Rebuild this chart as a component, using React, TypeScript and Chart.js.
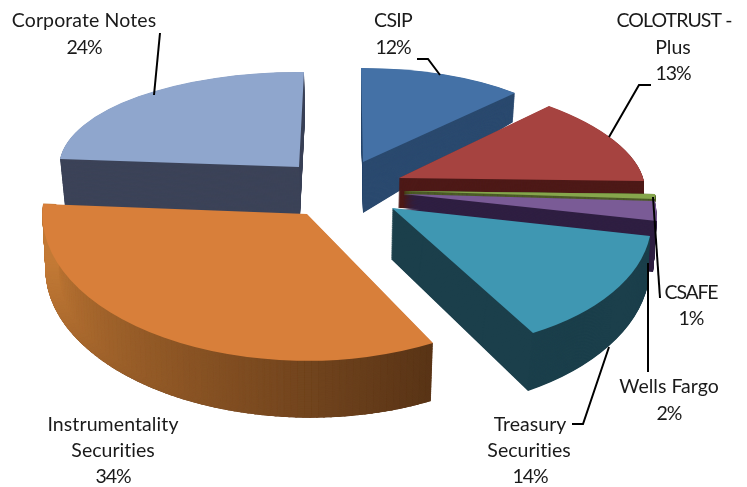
import React, { useEffect, useRef } from "react";
import { Chart, registerables, ArcElement } from "chart.js";

Chart.register(...registerables);

const categories = ["CSIP", "COLOTRUST - Plus", "CSAFE", "Wells Fargo", "Treasury Securities", "Instrumentality Securities", "Corporate Notes"];
const shares = [12, 13, 1, 2, 14, 34, 24];
const topColors = ["#4471a6", "#a64340", "#86a64c", "#7a5b96", "#3f97b2", "#d87f3a", "#8fa6cd"];
const wallColors = ["#2b4a6f", "#4e1a18", "#4e5c2a", "#2f1f42", "#1b3f4b", "#5a3517", "#3c4358"];
const drawOrder = [6, 0, 1, 2, 3, 4, 5];

type V = [number, number];
// View of each exploded slice: where the slice's centre and its two radial edges land (top and bottom faces).
const views: { c: V; a: V; b: V; c2: V; a2: V; b2: V }[] = [
  { c: [363, 162], a: [361, 68], b: [515, 93], c2: [363, 213], a2: [361, 118], b2: [513, 122] },
  { c: [399, 178], a: [549, 106], b: [644, 181], c2: [398, 208], a2: [549, 150], b2: [644, 215] },
  { c: [403, 191], a: [655, 194], b: [655, 199], c2: [403, 195], a2: [655, 198], b2: [655, 203] },
  { c: [403, 194], a: [655, 201], b: [657, 221], c2: [403, 250], a2: [654, 252], b2: [653, 272] },
  { c: [392, 208], a: [650, 236], b: [533, 333], c2: [391, 259], a2: [648, 285], b2: [528, 391] },
  { c: [307, 214], a: [433, 343], b: [43, 204], c2: [306, 272], a2: [431, 401], b2: [46, 260] },
  { c: [299, 167], a: [60, 159], b: [304, 72], c2: [300, 216], a2: [65, 208], b2: [305, 117] },
];

const rimFrom = [195, 122, 54];
const rimTo = [90, 53, 23];
const rimSlice = 5;

const labels: { text: string; x: number; y: number; spacing: number }[] = [
  { text: "Corporate Notes", x: 84, y: 21, spacing: 0.1 },
  { text: "24%", x: 84, y: 48, spacing: -1 },
  { text: "CSIP", x: 393, y: 21, spacing: -0.75 },
  { text: "12%", x: 393, y: 48, spacing: -1 },
  { text: "COLOTRUST -", x: 674, y: 21, spacing: -0.9 },
  { text: "Plus", x: 673, y: 48, spacing: 0 },
  { text: "13%", x: 673, y: 74, spacing: -1 },
  { text: "CSAFE", x: 691, y: 293, spacing: -1.2 },
  { text: "1%", x: 691, y: 319, spacing: -1 },
  { text: "Wells Fargo", x: 669, y: 387, spacing: 0 },
  { text: "2%", x: 669, y: 414, spacing: -1 },
  { text: "Treasury", x: 530, y: 425, spacing: 0 },
  { text: "Securities", x: 529, y: 451, spacing: 0 },
  { text: "14%", x: 530, y: 477, spacing: -1 },
  { text: "Instrumentality", x: 113, y: 425, spacing: 0.1 },
  { text: "Securities", x: 113, y: 451, spacing: 0 },
  { text: "34%", x: 113, y: 477, spacing: -1 },
];

const leaders: V[][] = [
  [[154, 95], [160, 33]],
  [[417, 59], [428, 59], [440, 75]],
  [[651, 85], [639, 85], [609, 137]],
  [[653, 197], [660, 298]],
  [[648, 263], [648, 372]],
  [[609, 347], [583, 424], [572, 424]],
];

function transformFor(arc: any, c: V, a: V, b: V) {
  const R = arc.outerRadius;
  const ax = Math.cos(arc.startAngle) * R, ay = Math.sin(arc.startAngle) * R;
  const bx = Math.cos(arc.endAngle) * R, by = Math.sin(arc.endAngle) * R;
  const det = ax * by - ay * bx;
  const ux = a[0] - c[0], uy = a[1] - c[1], vx = b[0] - c[0], vy = b[1] - c[1];
  const m11 = (ux * by - vx * ay) / det, m12 = (vx * ax - ux * bx) / det;
  const m21 = (uy * by - vy * ay) / det, m22 = (vy * ax - uy * bx) / det;
  return [m11, m21, m12, m22, c[0] - m11 * arc.x - m12 * arc.y, c[1] - m21 * arc.x - m22 * arc.y];
}

const mix = (p: number[], q: number[], t: number) => p.map((n, i) => Math.round(n + (q[i] - n) * t));

const pseudo3d = {
  id: "pseudo3d",
  beforeDatasetsDraw(chart: any) {
    const ctx = chart.ctx;
    const arcs = chart.getDatasetMeta(0).data;
    const clone = (arc: any, color: string, extra: any = {}) =>
      new (ArcElement as any)({
        x: arc.x, y: arc.y, startAngle: arc.startAngle, endAngle: arc.endAngle,
        innerRadius: 0, outerRadius: arc.outerRadius, circumference: arc.circumference,
        options: { ...arc.options, backgroundColor: color, borderWidth: 0, offset: 0 },
        ...extra,
      });
    for (const i of drawOrder) {
      const arc = arcs[i], view = views[i];
      const t0 = transformFor(arc, view.c, view.a, view.b);
      const t1 = transformFor(arc, view.c2, view.a2, view.b2);
      const steps = 90;
      const at = (t: number) => t0.map((n, k) => n + (t1[k] - n) * t);
      const wall = clone(arc, wallColors[i]);
      for (let s = steps; s > 0; s--) {
        ctx.save();
        ctx.transform(...(at(s / steps) as [number, number, number, number, number, number]));
        wall.draw(ctx);
        ctx.restore();
      }
      if (i === rimSlice) {
        const sections = 80;
        const da = arc.circumference / sections;
        for (let k = 0; k < sections; k++) {
          const f = k / (sections - 1);
          const [r, g, b] = mix(rimTo, rimFrom, f);
          const part = clone(arc, `rgb(${r},${g},${b})`, {
            startAngle: arc.startAngle + k * da,
            endAngle: arc.startAngle + (k + 1.3) * da,
            circumference: da * 1.3,
            innerRadius: arc.outerRadius * 0.95,
          });
          for (let s = steps; s > 0; s--) {
            ctx.save();
            ctx.transform(...(at(s / steps) as [number, number, number, number, number, number]));
            part.draw(ctx);
            ctx.restore();
          }
        }
      }
      ctx.save();
      ctx.transform(...(t0 as [number, number, number, number, number, number]));
      clone(arc, topColors[i]).draw(ctx);
      ctx.restore();
    }
    return false;
  },
  afterDraw(chart: any) {
    const ctx = chart.ctx;
    ctx.save();
    ctx.strokeStyle = "#000";
    ctx.lineWidth = 2;
    for (const pts of leaders) {
      ctx.beginPath();
      pts.forEach((p, k) => (k ? ctx.lineTo(p[0], p[1]) : ctx.moveTo(p[0], p[1])));
      ctx.stroke();
    }
    ctx.fillStyle = "#1a1a1a";
    ctx.font = '19.5px Lato, "Open Sans", sans-serif';
    ctx.textAlign = "center";
    ctx.textBaseline = "middle";
    for (const l of labels) {
      ctx.letterSpacing = `${l.spacing || 0.01}px`;
      ctx.fillText(l.text, l.x, l.y);
    }
    ctx.restore();
  },
};

export default function App() {
  const ref = useRef<HTMLCanvasElement>(null);
  useEffect(() => {
    const chart = new Chart(ref.current as HTMLCanvasElement, {
      type: "pie",
      data: { labels: categories, datasets: [{ data: shares, backgroundColor: topColors, borderWidth: 0 }] },
      options: {
        animation: false,
        responsive: false,
        devicePixelRatio: 1,
        plugins: { legend: { display: false }, tooltip: { enabled: false } },
      },
      plugins: [pseudo3d],
    } as any);
    return () => chart.destroy();
  }, []);
  return (
    <div style={{ position: "fixed", left: 0, top: 0, width: 747, height: 487, background: "#fff" }}>
      <canvas ref={ref} width={747} height={487} style={{ display: "block" }} />
    </div>
  );
}
